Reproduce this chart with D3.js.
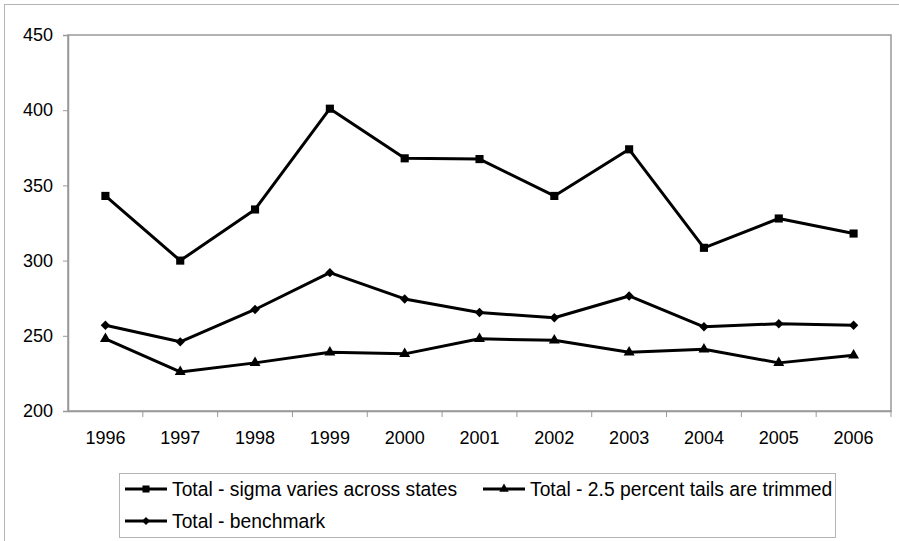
<!DOCTYPE html>
<html>
<head>
<meta charset="utf-8">
<script src="https://cdn.jsdelivr.net/npm/d3@7"></script>
<style>
  html, body { margin: 0; padding: 0; background: #fff; }
  svg { display: block; font-family: "Liberation Sans", Arial, sans-serif; }
</style>
</head>
<body>
<svg id="chart" width="899" height="541"></svg>
<script>
// Yearly totals for three model variants
const years = ["1996", "1997", "1998", "1999", "2000", "2001", "2002", "2003", "2004", "2005", "2006"];
const sigmaVaries = [343, 300, 334, 401, 368, 367.5, 343, 374, 308.5, 328, 318];
const tailsTrimmed = [248, 226, 232, 239, 238, 248, 247, 239, 241, 232, 237];
const benchmark = [257, 246, 267.5, 292, 274.5, 265.5, 262, 276.5, 256, 258, 257];
const yTicks = [200, 250, 300, 350, 400, 450];

const seriesNames = [
  "Total - sigma varies across states",
  "Total - 2.5 percent tails are trimmed",
  "Total - benchmark"
];
const series = [
  { name: seriesNames[0], values: sigmaVaries, symbol: d3.symbolSquare, size: 66, rotate: 0 },
  { name: seriesNames[1], values: tailsTrimmed, symbol: d3.symbolTriangle, size: 52, rotate: 0 },
  { name: seriesNames[2], values: benchmark, symbol: d3.symbolSquare, size: 44, rotate: 45 }
];

const svg = d3.select("#chart");
const plot = { left: 68, right: 891, top: 35, bottom: 411 };

// Outer chart frame
svg.append("rect")
  .attr("x", 4.5).attr("y", 4.5)
  .attr("width", 920).attr("height", 560)
  .attr("fill", "none").attr("stroke", "#b4b4b4").attr("stroke-width", 1);

const x = d3.scaleBand().domain(years).range([plot.left, plot.right]);
const y = d3.scaleLinear().domain([200, 450]).range([plot.bottom, plot.top]);

// Plot area border
svg.append("rect")
  .attr("x", plot.left).attr("y", plot.top)
  .attr("width", plot.right - plot.left).attr("height", plot.bottom - plot.top)
  .attr("fill", "none").attr("stroke", "#999").attr("stroke-width", 1.5);

// Y axis
const yAxis = svg.append("g")
  .attr("transform", `translate(${plot.left},0)`)
  .call(d3.axisLeft(y).tickValues(yTicks).tickSize(5).tickPadding(10).tickFormat(d3.format("d")));
yAxis.select(".domain").attr("stroke", "#999").attr("stroke-width", 1.5);
yAxis.selectAll(".tick line").attr("stroke", "#999");
yAxis.selectAll("text").attr("font-size", 18).attr("fill", "#000");

// X axis: ticks between categories
const xAxis = svg.append("g")
  .attr("transform", `translate(0,${plot.bottom})`)
  .call(d3.axisBottom(x).tickSize(0).tickPadding(20));
xAxis.select(".domain").attr("stroke", "#999").attr("stroke-width", 1.5);
xAxis.selectAll("text").attr("font-size", 18).attr("fill", "#000");
svg.append("g").selectAll("line")
  .data(years.slice(1).concat(["end"]))
  .join("line")
  .attr("x1", (d, i) => plot.left + x.step() * (i + 1))
  .attr("x2", (d, i) => plot.left + x.step() * (i + 1))
  .attr("y1", plot.bottom).attr("y2", plot.bottom + 6)
  .attr("stroke", "#999").attr("stroke-width", 1);

// Lines and markers
const line = d3.line()
  .x((d, i) => x(years[i]) + x.bandwidth() / 2)
  .y(d => y(d));

series.forEach(s => {
  svg.append("path")
    .datum(s.values)
    .attr("d", line)
    .attr("fill", "none")
    .attr("stroke", "#000")
    .attr("stroke-width", 3)
    .attr("stroke-linejoin", "round");
  svg.append("g").selectAll("path")
    .data(s.values)
    .join("path")
    .attr("d", d3.symbol().type(s.symbol).size(s.size))
    .attr("transform", (d, i) => `translate(${x(years[i]) + x.bandwidth() / 2},${y(d)}) rotate(${s.rotate})`)
    .attr("fill", "#000");
});

// Legend
const legend = svg.append("g");
legend.append("rect")
  .attr("x", 119.5).attr("y", 473.5)
  .attr("width", 716).attr("height", 64)
  .attr("fill", "#fff").attr("stroke", "#b4b4b4").attr("stroke-width", 1);

const legendPos = [
  { x: 125, y: 489 },
  { x: 483, y: 489 },
  { x: 125, y: 521 }
];
series.forEach((s, i) => {
  const p = legendPos[i];
  const g = legend.append("g").attr("transform", `translate(${p.x},${p.y})`);
  g.append("line").attr("x1", 0).attr("x2", 42).attr("y1", 0).attr("y2", 0)
    .attr("stroke", "#000").attr("stroke-width", 3);
  g.append("path")
    .attr("d", d3.symbol().type(s.symbol).size(s.size * 0.75))
    .attr("transform", `translate(21,0) rotate(${s.rotate})`)
    .attr("fill", "#000");
  g.append("text").attr("x", 47).attr("y", 0).attr("dy", "0.36em")
    .attr("font-size", 19.3).attr("fill", "#000").text(s.name);
});
</script>
</body>
</html>
